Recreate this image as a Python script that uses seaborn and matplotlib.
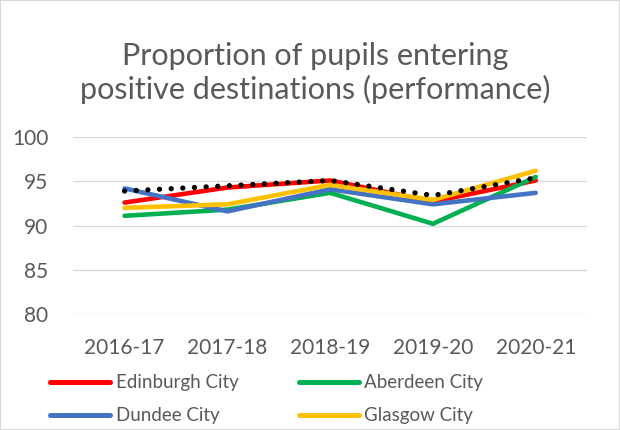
import matplotlib
matplotlib.use("Agg")
import matplotlib.pyplot as plt
import seaborn as sns
import pandas as pd
from matplotlib.lines import Line2D
from matplotlib.patches import Rectangle

YEARS = ['2016-17', '2017-18', '2018-19', '2019-20', '2020-21']
EDINBURGH = [92.6, 94.3, 95.1, 92.7, 95.1]
ABERDEEN = [91.1, 91.8, 93.7, 90.2, 95.5]
DUNDEE = [94.2, 91.6, 94.1, 92.4, 93.7]
GLASGOW = [92.0, 92.4, 94.6, 92.9, 96.2]
COMPARATOR = [93.9, 94.5, 95.1, 93.4, 95.4]

SERIES = [
    ('Edinburgh City', EDINBURGH, '#FF0000', '-'),
    ('Aberdeen City', ABERDEEN, '#00B050', '-'),
    ('Dundee City', DUNDEE, '#4472C4', '-'),
    ('Glasgow City', GLASGOW, '#FFC000', '-'),
    ('Virtual Comparator', COMPARATOR, '#000000', (0, (0.01, 2.2))),
]

sns.set_style('white')
plt.rcParams['font.family'] = ['Lato', 'DejaVu Sans']
TXT = '#595959'

fig = plt.figure(figsize=(6.2, 4.3), dpi=100)
ax = fig.add_axes([0.118, 0.270, 0.829, 0.411])

for name, vals, col, ls in SERIES:
    df = pd.DataFrame({'year': YEARS, 'value': vals})
    lw = 3.8 if ls != '-' else 3.3
    sns.lineplot(data=df, x='year', y='value', ax=ax, color=col, linestyle=ls,
                 linewidth=lw, legend=False, sort=False, zorder=3,
                 dash_capstyle='round', solid_capstyle='round')

ax.set_xlim(-0.5, 4.5)
ax.set_ylim(80, 100)
ax.set_yticks([80, 85, 90, 95, 100])
ax.grid(axis='y', color='#D9D9D9', linewidth=1)
ax.grid(axis='x', visible=False)
for s in ax.spines.values():
    s.set_visible(False)
ax.set_xlabel('')
ax.set_ylabel('')
ax.tick_params(axis='both', length=0, labelsize=15, colors=TXT)
ax.tick_params(axis='y', pad=18)
ax.tick_params(axis='x', pad=17)

fig.text(0.508, 0.83, 'Proportion of pupils entering\npositive destinations (performance)',
         ha='center', va='center', fontsize=22, color=TXT, linespacing=1.2)

# legend fills column-major -> Edinburgh/Aberdeen on first row
order = [0, 2, 1, 3]
handles = [Line2D([0], [0], color=SERIES[i][2], lw=3.6, solid_capstyle='round') for i in order]
labels = [SERIES[i][0] for i in order]
fig.legend(handles, labels, ncol=2, loc='upper left', bbox_to_anchor=(0.081, 0.13),
           frameon=False, fontsize=13.5, labelcolor=TXT, handlelength=3.2,
           columnspacing=3.2, handletextpad=0.3, labelspacing=0.87,
           borderaxespad=0, borderpad=0)

fig.patches.append(Rectangle((0, 0), 1, 1, transform=fig.transFigure, fill=False,
                             edgecolor='#D9D9D9', linewidth=1.5))

fig.savefig('out.png', dpi=100)
